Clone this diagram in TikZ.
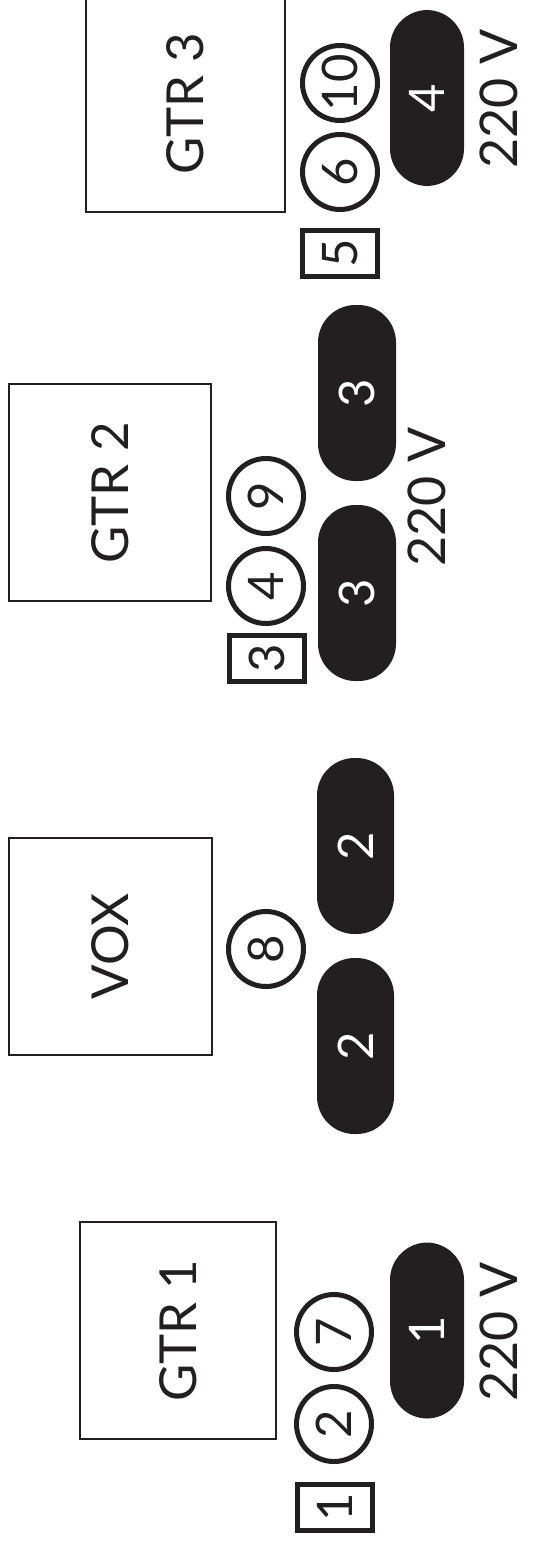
\documentclass[tikz,border=0pt]{standalone}
\usepackage{fontspec}
\setmainfont{Lato}
\definecolor{ink}{HTML}{231F20}
\begin{document}
\begin{tikzpicture}[x=1pt,y=-1pt,
  amp/.style={draw=ink,line width=2pt,rectangle,rotate=90,inner sep=0pt,
    minimum width=217pt,minimum height=198pt,font=\fontsize{51}{51}\selectfont,text=ink},
  mic/.style={draw=ink,line width=5pt,circle,rotate=90,inner sep=0pt,
    minimum size=75pt,font=\fontsize{49}{49}\selectfont,text=ink},
  di/.style={draw=ink,line width=5pt,rectangle,rotate=90,inner sep=0pt,
    minimum width=46pt,minimum height=75pt,font=\fontsize{49}{49}\selectfont,text=ink},
  pill/.style={fill=ink,rectangle,rotate=90,inner sep=0pt,rounded corners=37.5pt,
    minimum width=176pt,minimum height=76pt,font=\fontsize{49}{49}\selectfont,text=white},
  volt/.style={rotate=90,inner sep=0pt,font=\fontsize{52}{52}\selectfont,text=ink}]
\useasboundingbox (0,0) rectangle (537,1544);
% amps
\node[amp,minimum height=199pt] (gtr3) at (185.5,103.5) {GTR 3};
\node[amp,minimum height=202pt] (gtr2) at (110,492.5) {GTR 2};
\node[amp,minimum height=203pt] (vox) at (110.5,946.5) {VOX};
\node[amp,minimum height=196pt] (gtr1) at (178,1330.5) {GTR 1};
% mics
\node[mic] (m10) at (340,83) {10};
\node[mic] (m6) at (340,172) {6};
\node[mic] (m9) at (266,496) {9};
\node[mic] (m4) at (266,586) {4};
\node[mic] (m8) at (266,949) {8};
\node[mic] (m7) at (334,1332) {7};
\node[mic] (m2) at (334,1424) {2};
% DI boxes
\node[di] (d5) at (340,253.5) {5};
\node[di] (d3) at (266.5,658.5) {3};
\node[di] (d1) at (334.5,1507.5) {1};
% power / wedges
\node[pill,minimum height=74pt] (p4) at (427,98) {4};
\node[pill,minimum height=78pt] (p3a) at (357,393) {3};
\node[pill,minimum height=78pt] (p3b) at (357,593) {3};
\node[pill,minimum height=77pt] (p2a) at (355.5,846) {2};
\node[pill,minimum height=77pt] (p2b) at (355.5,1046) {2};
\node[pill,minimum height=74pt] (p1) at (427,1330.5) {1};
% voltage labels
\node[volt] (v3) at (499,99) {220 V};
\node[volt] (v2) at (426.5,497) {220 V};
\node[volt] (v1) at (499,1332) {220 V};
\end{tikzpicture}
\end{document}
